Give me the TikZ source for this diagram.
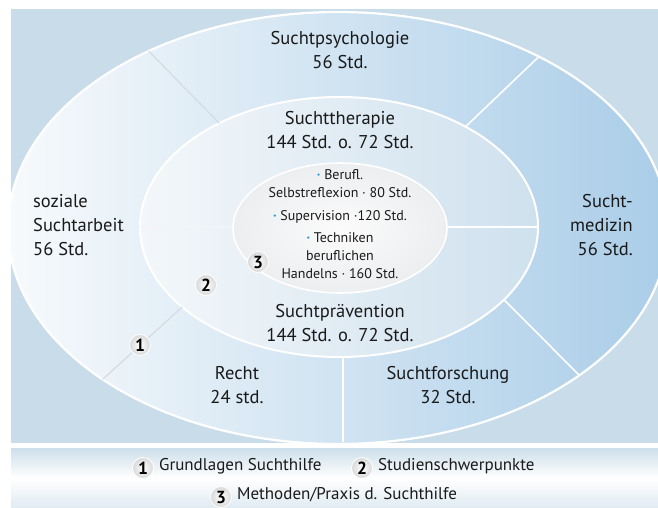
\documentclass[tikz,border=0pt]{standalone}
\usepackage{fontspec}
\setmainfont{PT Sans}
\definecolor{txt}{HTML}{1A1A1A}
\definecolor{bgA}{HTML}{E4EEF5}
\definecolor{bgB}{HTML}{C8DCE9}
\definecolor{ringL}{HTML}{F7FAFC}
\definecolor{ringM}{HTML}{D3E5F2}
\definecolor{ringR}{HTML}{AACDE8}
\definecolor{midL}{HTML}{F3F7FA}
\definecolor{midR}{HTML}{CFE1EE}
\definecolor{innA}{HTML}{FBFBFB}
\definecolor{innB}{HTML}{ECEEF0}
\definecolor{dotblue}{HTML}{2A9AD6}
\definecolor{greyline}{HTML}{D3DCE3}
\definecolor{legTop}{HTML}{CDDFEA}
\definecolor{legBot}{HTML}{E0EBF2}
\newcommand{\bluedot}{{\color{dotblue}\bfseries·}}
\begin{document}
\begin{tikzpicture}[x=1pt,y=-1pt,
  lab/.style={font=\fontsize{18.5}{24}\selectfont, text=txt, align=center, inner sep=0},
  smalltxt/.style={font=\fontsize{14}{18}\selectfont, text=txt, align=center, inner sep=0},
  leg/.style={font=\fontsize{17}{18}\selectfont, text=txt, inner sep=0, anchor=mid west},
  numball/.style={circle, shade, draw=white, line width=0.8, inner color=white, outer color=gray!30, minimum size=21, inner sep=0, font=\fontsize{17.5}{17.5}\selectfont\bfseries, text=black},
  divw/.style={draw=white, line width=1.6},
  divg/.style={draw=greyline, line width=1.2}]
\useasboundingbox (0,0) rectangle (658,508);
\fill[white] (0,0) rectangle (658,508);
% main panel
\shade[inner color=bgA, outer color=bgB] (11,10) rectangle (658,442);
% legend panel
\shade[top color=legTop, bottom color=legBot, middle color=white] (11,448) rectangle (658,508);
% outer ring
\begin{scope}
  \clip (11,10) rectangle (658,442);
  \shade[left color=ringL, middle color=ringM, right color=ringR] (338,228) ellipse [x radius=330, y radius=216];
  \draw[white, line width=2.2] (338,228) ellipse [x radius=330, y radius=216];
\end{scope}
% middle ring
\shade[left color=midL, right color=midR] (339,227) ellipse [x radius=199, y radius=130];
\draw[white, line width=2] (339,227) ellipse [x radius=199, y radius=130];
% outer ring dividers
\coordinate (oUL) at ({338+330*cos(125)},{228-216*sin(125)});
\coordinate (mUL) at ({339+199*cos(127)},{227-130*sin(127)});
\coordinate (oUR) at ({338+330*cos(52.5)},{228-216*sin(52.5)});
\coordinate (mUR) at ({339+199*cos(50.5)},{227-130*sin(50.5)});
\coordinate (oLR) at ({338+330*cos(-43)},{228-216*sin(-43)});
\coordinate (mLR) at ({339+199*cos(-34)},{227-130*sin(-34)});
\coordinate (oLL) at ({338+330*cos(-135.5)},{228-216*sin(-135.5)});
\coordinate (mLL) at ({339+199*cos(-142)},{227-130*sin(-142)});
\coordinate (mB) at (343,357);
\coordinate (oB) at (343,442);
\draw[divg] (mUL) -- (oUL);
\draw[divw] (mUR) -- (oUR);
\draw[divw] (mLR) -- (oLR);
\draw[divg] (mLL) -- (oLL);
\draw[divw] (mB) -- (oB);
% inner ellipse
\shade[inner color=innA, outer color=innB] (340,228) ellipse [x radius=107, y radius=65];
\draw[white, line width=1.6] (340,228) ellipse [x radius=107, y radius=65];
% middle ring dividers
\coordinate (mL) at (140,227);
\coordinate (iL) at (233,227);
\coordinate (iR) at (447,227);
\coordinate (mR) at (538,227);
\draw[draw=white!70!greyline, line width=1.6] (mL) -- (iL);
\draw[divw] (iR) -- (mR);
% labels
\node[lab] (psy) at (340,50) {Suchtpsychologie\\56 Std.};
\node[lab] (ther) at (340,130) {Suchttherapie\\144 Std. o. 72 Std.};
\node[lab] (prae) at (340,323.5) {Suchtprävention\\144 Std. o. 72 Std.};
\node[lab] (recht) at (237,385) {Recht\\24 std.};
\node[lab] (forsch) at (448,385) {Suchtforschung\\32 Std.};
\node[lab, align=left, anchor=west] (soz) at (33,225) {soziale\\Suchtarbeit\\56 Std.};
\node[lab, align=right, anchor=east] (med) at (633,225) {Sucht-\\medizin\\56 Std.};
% inner labels
\node[smalltxt] (i1) at (340,184) {\bluedot\ Berufl.\\Selbstreflexion · 80 Std.};
\node[smalltxt] (i2) at (340,217) {\bluedot\ Supervision ·120 Std.};
\node[smalltxt] (i3) at (340,255.5) {\bluedot\ Techniken\\beruflichen\\Handelns · 160 Std.};
% number balls
\node[numball] (n1) at (140,345) {1};
\node[numball] (n2) at (206,285) {2};
\node[numball] (n3) at (258,262) {3};
% legend
\node[numball] (k1) at (143,468) {1};
\node[leg] (k1t) at ([xshift=5]k1.east) {Grundlagen Suchthilfe};
\node[numball] (k2) at (362,468) {2};
\node[leg] (k2t) at ([xshift=5]k2.east) {Studienschwerpunkte};
\node[numball] (k3) at (221,497) {3};
\node[leg] (k3t) at ([xshift=5]k3.east) {Methoden/Praxis d. Suchthilfe};
\end{tikzpicture}
\end{document}
